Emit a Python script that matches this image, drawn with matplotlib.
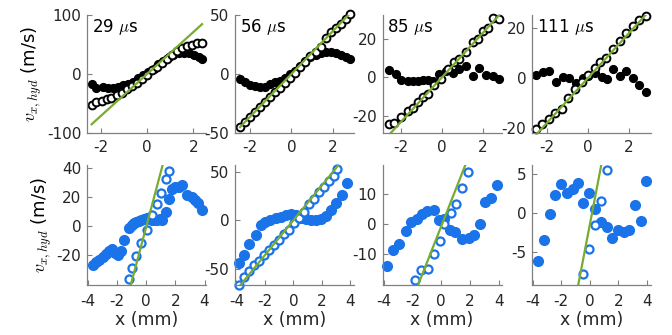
import matplotlib.pyplot as plt

plt.rcParams['font.family'] = ['DejaVu Sans']
plt.rcParams['mathtext.fontset'] = 'cm'
plt.rcParams['axes.unicode_minus'] = False

# time stamps of the four columns
times = ['29', '56', '85', '111']

# ---- top row: black points (solid and open) + linear fit ----
x29_solid = [-2.40, -2.19, -1.90, -1.68, -1.46, -1.25, -1.03, -0.81, -0.59, -0.38, -0.16, 0.06,
             0.28, 0.49, 0.71, 0.93, 1.14, 1.36, 1.58, 1.80, 2.01, 2.23, 2.38]
v29_solid = [-17, -24, -22, -24, -24, -22, -18, -17, -13, -7, -2, 4,
             9, 17, 22, 29, 33, 36, 36, 36, 33, 29, 26]
x29_open = [-2.40, -2.19, -1.97, -1.75, -1.54, -1.32, -1.10, -0.88, -0.67, -0.45, -0.23, -0.01,
            0.20, 0.42, 0.64, 0.85, 1.07, 1.29, 1.51, 1.72, 1.94, 2.16, 2.38]
v29_open = [-53, -48, -46, -43, -40, -36, -32, -26, -21, -15, -8, -2,
            6, 12, 19, 26, 33, 39, 44, 47, 50, 53, 53]

x56 = [-2.46, -2.22, -1.98, -1.74, -1.49, -1.25, -1.01, -0.77, -0.53, -0.29, -0.05, 0.19,
       0.43, 0.67, 0.91, 1.16, 1.40, 1.64, 1.88, 2.12, 2.36, 2.60, 2.80]
v56_solid = [-4.2, -7.1, -9.3, -10.5, -11.3, -11.3, -8.5, -7.1, -5.6, -3.7, 0, 2.8,
             7.1, 11.3, 14.1, 16.1, 17.8, 18.4, 18.4, 17.5, 16.1, 14.1, 12.7]
v56_open = [-44.6, -41, -36.7, -32.5, -28.2, -24, -19.8, -15.5, -12.1, -7.6, -3.7, 0.8,
            5.6, 9.9, 15, 18.9, 23.2, 30.2, 35.3, 38.7, 42.4, 46.6, 50.8]

x85_solid = [-2.57, -2.24, -2.0, -1.67, -1.43, -1.19, -0.94, -0.70, -0.46, -0.13, 0.20, 0.52,
             0.85, 1.17, 1.50, 1.82, 2.15, 2.47, 2.80]
v85_solid = [3.8, 1.6, -1.4, -1.9, -1.9, -1.9, -1.4, -1.4, -1.9, 1.6, 3.3, 2.4,
             4.2, 5.9, 0.7, 5.0, 1.0, 0.7, -0.7]
x85_open = [-2.57, -2.33, -2.0, -1.67, -1.43, -1.19, -0.94, -0.70, -0.37, -0.05, 0.28, 0.60,
            0.85, 1.17, 1.50, 1.74, 1.98, 2.23, 2.47, 2.80]
v85_open = [-24.5, -24, -20.5, -17.5, -15.8, -12.9, -10.1, -8.8, -4.2, -1.0, 4.2, 8,
            9.4, 13.2, 18.4, 20.1, 24.1, 25.8, 31, 30.5]

x111_solid = [-2.54, -2.21, -1.89, -1.56, -1.24, -0.91, -0.59, -0.26, 0.02, 0.34, 0.67, 0.94,
              1.24, 1.56, 1.89, 2.21, 2.53, 2.83]
v111_solid = [1.2, 2.5, 2.9, -1.5, 0.3, -0.1, -1.9, -0.1, 0.8, 2.1, 0.3, -0.5,
              3.5, 0.8, 2.9, -0.1, -2.8, -5.5]
x111_open = [-2.54, -2.26, -1.93, -1.61, -1.28, -0.96, -0.63, -0.30, 0.02, 0.34, 0.59, 0.91,
             1.24, 1.56, 1.89, 2.21, 2.50, 2.83]
v111_open = [-20.5, -18.4, -16.5, -14.1, -12.5, -8.1, -4.5, -1.5, 1.2, 3.9, 6.5, 7.9,
             11.5, 14.9, 17.9, 20.8, 23.2, 24.8]

top_slope = [35.5, 18.3, 11.6, 8.9]
top_icpt = [0.0, 0.0, 0.0, 0.0]

# ---- bottom row: blue points vs x (mm) + linear fit ----
xb29_solid = [-3.66, -3.43, -3.21, -2.98, -2.76, -2.53, -2.35, -2.15, -1.95, -1.75, -1.51, -1.20,
              -1.00, -0.83, -0.66, -0.49, -0.32, -0.15, 0.08, 0.25, 0.42, 0.59, 0.76, 0.93,
              1.10, 1.33, 1.56, 1.78, 2.00, 2.25, 2.46, 2.80, 3.14, 3.35, 3.55, 3.82]
vb29_solid = [-26.9, -25.3, -23.4, -21.6, -19.5, -17.7, -16.1, -19.0, -20.0, -17.7, -9.7, -1.6,
              0.5, 1.8, 2.6, 3.0, 4.1, 4.6, 5.3, 4.6, 4.1, 3.6, 4.1, 4.6,
              4.1, 9.2, 18.4, 25.3, 26.5, 27.1, 28.3, 21.4, 19.8, 18.0, 16.0, 10.6]
xb29_open = [-1.17, -0.94, -0.71, -0.37, 0.08, 0.42, 0.71, 0.99, 1.33, 1.56]
vb29_open = [-36.8, -29.2, -20.7, -11.9, -2.8, 7.1, 14.7, 22.8, 32.4, 37.7]

xb56_solid = [-3.84, -3.49, -3.09, -2.66, -2.31, -1.96, -1.61, -1.25, -0.90, -0.55, -0.20, 0.15,
              0.50, 0.86, 1.21, 1.56, 1.91, 2.27, 2.62, 2.97, 3.44, 3.79]
vb56_solid = [-44, -36.1, -24, -15.5, -5.2, -1.7, 0.7, 2.7, 3.4, 5.2, 6.9, 5.2,
              2.7, 1.7, 0.7, 0, 1.7, 4.1, 10.3, 17.2, 25.8, 37.8]
xb56_open = [-3.84, -3.49, -3.13, -2.78, -2.43, -2.08, -1.73, -1.37, -1.02, -0.67, -0.32, 0.04,
             0.39, 0.74, 1.09, 1.44, 1.80, 2.15, 2.50, 2.85, 3.09]
vb56_open = [-66, -58.4, -52.2, -46.4, -41.9, -36.1, -30.9, -25.8, -19.9, -14.4, -9.6, -2.7,
             2.7, 8.6, 16.5, 22.3, 29.2, 34.4, 40.5, 45.4, 52.2]

xb85_solid = [-3.76, -3.34, -2.95, -2.49, -2.14, -1.72, -1.33, -0.98, -0.52, -0.17, 0.22, 0.59,
              0.98, 1.45, 1.91, 2.26, 2.67, 3.06, 3.46, 3.88]
vb85_solid = [-13.7, -8.4, -6.4, -2.2, 0.8, 1.6, 3.3, 4.4, 4.9, 1.3, 1.6, -2.0,
              -2.6, -4.8, -4.4, -3.7, 0, 7.4, 8.9, 13.2]
xb85_open = [-1.85, -1.40, -0.94, -0.52, -0.09, 0.22, 0.68, 1.05, 1.45, 1.86]
vb85_open = [-18.4, -15.1, -14.8, -9.8, -5.6, 0, 3.8, 6.7, 12.2, 17.4]

xb111_solid = [-3.63, -3.22, -2.82, -2.43, -2.01, -1.60, -1.20, -0.81, -0.44, -0.05, 0.40, 0.76,
               1.18, 1.57, 1.97, 2.38, 2.73, 3.19, 3.59, 3.96]
vb111_solid = [-6.2, -3.44, -0.19, 2.24, 3.65, 2.46, 2.97, 3.82, 1.26, 2.54, 0.53, -1.18,
               -1.9, -3.2, -2.24, -2.46, -2.16, 0.96, -1.05, 4.08]
xb111_open = [-0.44, -0.05, 0.35, 0.76, 1.18]
vb111_open = [-7.9, -4.6, -1.6, 1.5, 5.5]

bot_slope = [38.0, 17.9, 12.1, 9.5]
bot_icpt = [-1.0, 0.0, -0.6, -1.6]

top_solid = [(x29_solid, v29_solid), (x56, v56_solid), (x85_solid, v85_solid), (x111_solid, v111_solid)]
top_open = [(x29_open, v29_open), (x56, v56_open), (x85_open, v85_open), (x111_open, v111_open)]
bot_solid = [(xb29_solid, vb29_solid), (xb56_solid, vb56_solid), (xb85_solid, vb85_solid), (xb111_solid, vb111_solid)]
bot_open = [(xb29_open, vb29_open), (xb56_open, vb56_open), (xb85_open, vb85_open), (xb111_open, vb111_open)]

top_xlim = [(-2.6, 2.55), (-2.7, 3.0), (-2.9, 2.9), (-2.75, 3.1)]
top_ylim = [(-100, 100), (-50, 50), (-29, 32.4), (-22, 25.2)]
top_yticks = [[-100, 0, 100], [-50, 0, 50], [-20, 0, 20], [-20, 0, 20]]
bot_xlim = [(-4.05, 4.1), (-4.1, 4.25), (-4.1, 4.2), (-4.05, 4.3)]
bot_ylim = [(-40.7, 42), (-66, 56.7), (-20, 19.7), (-9.2, 6.1)]
bot_yticks = [[-20, 0, 20, 40], [-50, 0, 50], [-10, 0, 10], [-5, 0, 5]]

blue = '#1a73e8'
green = '#77ac30'
gray = '#808080'
txt = '#262626'

W, H = 672, 335
lefts = [87, 235, 382.5, 532]

fig = plt.figure(figsize=(W / 100, H / 100), dpi=100)


def style(ax, xpad):
    for s in ['top', 'right']:
        ax.spines[s].set_visible(False)
    for s in ['left', 'bottom']:
        ax.spines[s].set_color(gray)
        ax.spines[s].set_linewidth(0.9)
    ax.tick_params(direction='in', length=3.5, width=0.8, color=gray, labelcolor=txt, labelsize=11)
    ax.tick_params(axis='x', pad=xpad)
    ax.tick_params(axis='y', pad=4)


for i in range(4):
    # top row
    ax = fig.add_axes([lefts[i] / W, 1 - 133 / H, 119 / W, 118 / H])
    xs, ys = top_solid[i]
    xo, yo = top_open[i]
    ax.plot(xs, ys, 'o', color='k', ms=5.6, clip_on=False)
    ax.plot(xo, yo, 'o', mfc='white', mec='k', mew=1.4, ms=5.6, clip_on=False)
    xl = [min(xo), max(xo)]
    ax.plot(xl, [top_slope[i] * x + top_icpt[i] for x in xl], color=green, lw=1.6)
    ax.set_xlim(top_xlim[i])
    ax.set_ylim(top_ylim[i])
    ax.set_xticks([-2, 0, 2])
    ax.set_yticks(top_yticks[i])
    style(ax, 5)
    ax.text(0.04, 0.9, times[i] + r' $\mu$s', transform=ax.transAxes, fontsize=12,
            color='k', va='center', ha='left')
    if i == 0:
        ax.set_ylabel(r'$v_{x,hyd}$ (m/s)', fontsize=13, labelpad=2)

    # bottom row
    ax = fig.add_axes([lefts[i] / W, 1 - 284.5 / H, 119 / W, 119.5 / H])
    xs, ys = bot_solid[i]
    xo, yo = bot_open[i]
    ax.plot(xs, ys, 'o', color=blue, ms=7, clip_on=False)
    ax.plot(xo, yo, 'o', mfc='white', mec=blue, mew=1.6, ms=5.8, clip_on=False)
    xl = [min(xs), max(xs)]
    ax.plot(xl, [bot_slope[i] * x + bot_icpt[i] for x in xl], color=green, lw=1.6)
    ax.set_xlim(bot_xlim[i])
    ax.set_ylim(bot_ylim[i])
    ax.set_xticks([-4, -2, 0, 2, 4])
    ax.set_yticks(bot_yticks[i])
    style(ax, 7)
    ax.set_xlabel('x (mm)', fontsize=12.5, color=txt, labelpad=1)
    if i == 0:
        ax.set_ylabel(r'$v_{x,hyd}$ (m/s)', fontsize=13, labelpad=2)

fig.savefig('out.png', dpi=100)
